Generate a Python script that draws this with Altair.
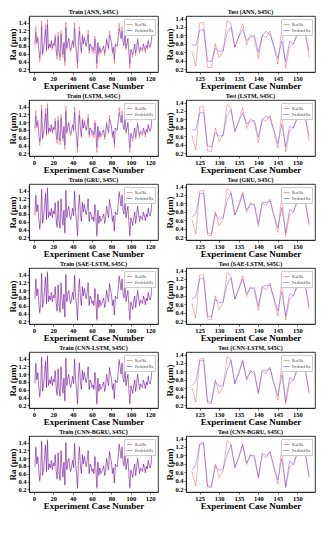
import altair as alt
import pandas as pd

FONT = "Liberation Serif"

models = ["ANN", "LSTM", "GRU", "SAE-LSTM", "CNN-LSTM", "CNN-BGRU"]

train_cases = list(range(1, 123))
test_cases = list(range(123, 154))

train_real = [
    0.75, 1.30, 0.85, 1.05, 0.70, 0.40, 0.62, 1.45, 0.55, 0.72,
    1.00, 1.35, 0.65, 1.48, 0.70, 0.85, 0.75, 0.95, 0.70, 0.88,
    0.80, 1.10, 0.65, 0.45, 1.15, 0.60, 0.42, 1.20, 0.75, 0.50,
    0.90, 0.30, 1.42, 0.70, 0.90, 1.00, 0.75, 0.65, 0.80, 0.95,
    0.75, 1.40, 0.85, 0.60, 0.22, 0.95, 1.30, 0.80, 0.60, 1.10,
    0.85, 1.05, 0.90, 0.78, 0.95, 1.20, 0.60, 0.85, 0.80, 0.65,
    0.72, 0.60, 1.05, 0.70, 0.22, 0.90, 0.55, 0.75, 0.60, 0.65,
    0.72, 0.80, 0.55, 0.70, 1.00, 0.85, 0.70, 1.18, 1.00, 0.90,
    0.60, 0.75, 0.35, 0.85, 0.80, 0.78, 1.05, 1.38, 1.20, 1.00,
    1.30, 0.90, 0.80, 1.15, 0.70, 0.85, 1.00, 0.60, 0.22, 0.70,
    0.60, 0.50, 0.70, 0.85, 0.55, 0.75, 1.00, 0.80, 0.60, 0.75,
    0.70, 0.65, 0.85, 0.75, 0.62, 0.80, 0.72, 0.95, 0.80, 0.75,
    0.88, 1.22,
]

# smoother predictions (ANN, LSTM)
train_pred_smooth = [
    0.85, 1.15, 0.90, 1.00, 0.75, 0.50, 0.65, 1.30, 0.60, 0.75,
    0.95, 1.22, 0.70, 1.35, 0.75, 0.85, 0.78, 0.92, 0.75, 0.85,
    0.82, 1.02, 0.70, 0.55, 1.05, 0.65, 0.52, 1.10, 0.78, 0.58,
    0.88, 0.40, 1.28, 0.75, 0.88, 0.98, 0.78, 0.70, 0.82, 0.92,
    0.80, 1.25, 0.85, 0.65, 0.35, 0.92, 1.18, 0.82, 0.65, 1.05,
    0.85, 1.00, 0.90, 0.80, 0.92, 1.10, 0.68, 0.85, 0.82, 0.72,
    0.78, 0.68, 0.98, 0.75, 0.35, 0.88, 0.62, 0.78, 0.65, 0.70,
    0.75, 0.80, 0.62, 0.72, 0.95, 0.85, 0.75, 1.08, 0.98, 0.90,
    0.66, 0.78, 0.45, 0.85, 0.82, 0.80, 1.00, 1.25, 1.12, 0.98,
    1.18, 0.90, 0.82, 1.08, 0.75, 0.85, 0.98, 0.65, 0.35, 0.72,
    0.65, 0.58, 0.72, 0.85, 0.62, 0.78, 0.95, 0.82, 0.66, 0.78,
    0.74, 0.70, 0.85, 0.78, 0.68, 0.82, 0.76, 0.92, 0.82, 0.78,
    0.88, 1.12,
]

# close-fitting predictions (GRU, SAE-LSTM, CNN-LSTM, CNN-BGRU)
train_pred_close = [
    0.78, 1.27, 0.86, 1.03, 0.71, 0.43, 0.63, 1.42, 0.57, 0.73,
    0.99, 1.32, 0.66, 1.45, 0.71, 0.85, 0.76, 0.94, 0.71, 0.87,
    0.80, 1.08, 0.66, 0.47, 1.13, 0.61, 0.44, 1.18, 0.75, 0.52,
    0.89, 0.32, 1.39, 0.71, 0.89, 0.99, 0.76, 0.66, 0.80, 0.94,
    0.76, 1.37, 0.85, 0.61, 0.25, 0.94, 1.28, 0.80, 0.61, 1.09,
    0.85, 1.04, 0.90, 0.78, 0.94, 1.18, 0.61, 0.85, 0.80, 0.66,
    0.73, 0.61, 1.04, 0.71, 0.25, 0.89, 0.56, 0.75, 0.61, 0.66,
    0.72, 0.80, 0.56, 0.70, 0.99, 0.85, 0.71, 1.16, 1.00, 0.90,
    0.61, 0.75, 0.37, 0.85, 0.80, 0.78, 1.04, 1.35, 1.19, 1.00,
    1.28, 0.90, 0.80, 1.14, 0.71, 0.85, 0.99, 0.61, 0.25, 0.70,
    0.61, 0.51, 0.70, 0.85, 0.56, 0.75, 0.99, 0.80, 0.61, 0.75,
    0.70, 0.66, 0.85, 0.75, 0.63, 0.80, 0.72, 0.94, 0.80, 0.75,
    0.88, 1.20,
]

test_real = [
    0.62, 0.27, 1.29, 1.31, 0.25, 0.23, 0.80, 0.47, 0.63, 1.35,
    1.28, 0.72, 0.97, 1.28, 0.78, 1.02, 0.93, 0.45, 1.00, 0.95,
    1.10, 0.70, 0.31, 1.18, 0.22, 0.73, 0.80, 1.09, 1.15, 1.05,
    0.48,
]

test_pred_ann = [
    0.78, 0.76, 1.12, 1.14, 0.40, 0.37, 0.70, 0.62, 0.63, 1.05,
    1.20, 0.72, 0.97, 1.14, 0.88, 0.95, 1.00, 0.60, 0.98, 1.10,
    1.02, 0.75, 0.45, 0.87, 0.37, 0.86, 0.80, 1.02, 1.01, 1.05,
    0.62,
]
test_pred_lstm = [
    0.75, 0.75, 1.15, 1.17, 0.37, 0.35, 0.68, 0.60, 0.62, 1.10,
    1.23, 0.70, 0.95, 1.15, 0.90, 0.95, 0.98, 0.58, 1.00, 1.07,
    1.03, 0.73, 0.43, 0.88, 0.35, 0.83, 0.80, 1.03, 1.04, 1.05,
    0.60,
]
test_pred_gru = [
    0.68, 0.75, 1.22, 1.25, 0.30, 0.28, 0.75, 0.62, 0.66, 1.05,
    1.25, 0.72, 0.95, 1.22, 0.84, 0.98, 0.98, 0.52, 1.02, 1.02,
    1.06, 0.72, 0.42, 0.90, 0.30, 0.85, 0.80, 1.05, 1.10, 1.05,
    0.52,
]
test_pred_sae = [
    0.72, 0.78, 1.20, 1.22, 0.32, 0.30, 0.72, 0.63, 0.65, 1.08,
    1.22, 0.72, 0.96, 1.20, 0.85, 0.98, 0.99, 0.55, 1.02, 1.04,
    1.05, 0.73, 0.44, 0.90, 0.32, 0.85, 0.80, 1.04, 1.08, 1.05,
    0.55,
]
test_pred_cnnlstm = [
    0.66, 0.76, 1.24, 1.27, 0.28, 0.27, 0.76, 0.64, 0.67, 1.02,
    1.26, 0.70, 0.95, 1.24, 0.83, 0.99, 0.99, 0.50, 1.04, 1.01,
    1.07, 0.72, 0.42, 0.92, 0.28, 0.86, 0.79, 1.05, 1.11, 1.05,
    0.50,
]
test_pred_cnnbgru = [
    0.65, 0.78, 1.25, 1.28, 0.27, 0.27, 0.75, 0.65, 0.68, 1.00,
    1.25, 0.70, 0.95, 1.25, 0.82, 1.00, 1.00, 0.50, 1.05, 1.00,
    1.08, 0.72, 0.42, 0.92, 0.27, 0.87, 0.78, 1.05, 1.12, 1.05,
    0.50,
]

train_preds = [train_pred_smooth, train_pred_smooth, train_pred_close,
               train_pred_close, train_pred_close, train_pred_close]
test_preds = [test_pred_ann, test_pred_lstm, test_pred_gru,
              test_pred_sae, test_pred_cnnlstm, test_pred_cnnbgru]

y_ticks = [0.2, 0.4, 0.6, 0.8, 1.0, 1.2, 1.4]
train_xticks = [0, 20, 40, 60, 80, 100, 120]
test_xticks = [125, 130, 135, 140, 145, 150]

W, H = 129, 56


def panel(title, cases, real, pred, xdom, xticks, ydom):
    n = len(cases)
    df = pd.DataFrame({
        "case": cases + cases,
        "Ra": real + pred,
        "series": ["Real Ra"] * n + ["Predicted Ra"] * n,
    })
    return alt.Chart(
        df,
        title=alt.Title(title, fontSize=6, font=FONT, fontWeight="bold",
                        offset=1, color="black"),
    ).mark_line(strokeWidth=0.8, opacity=0.4).encode(
        x=alt.X("case:Q",
                scale=alt.Scale(domain=xdom, nice=False, zero=False),
                axis=alt.Axis(values=xticks, format="d",
                              title="Experiment Case Number")),
        y=alt.Y("Ra:Q",
                scale=alt.Scale(domain=ydom, nice=False, zero=False),
                axis=alt.Axis(values=y_ticks, format=".1f", title="Ra (μm)")),
        color=alt.Color(
            "series:N",
            scale=alt.Scale(domain=["Real Ra", "Predicted Ra"],
                            range=["#ff0000", "#0000ff"]),
            legend=alt.Legend(
                title=None, orient="top-right", offset=3,
                labelFont=FONT, labelFontSize=3.5, labelColor="#333333",
                symbolType="stroke", symbolSize=36, symbolStrokeWidth=1,
                symbolOpacity=0.4, strokeColor="#cccccc", fillColor="white",
                padding=2, rowPadding=0, labelOffset=2, labelLimit=60,
            ),
        ),
    ).properties(width=W, height=H)


rows = []
for i, m in enumerate(models):
    left = panel(f"Train ({m}, S45C)", train_cases, train_real, train_preds[i],
                 [-5.05, 128.05], train_xticks, [0.13, 1.57])
    right = panel(f"Test ({m}, S45C)", test_cases, test_real, test_preds[i],
                  [121.5, 154.5], test_xticks, [0.13, 1.46])
    row = alt.hconcat(left, right, spacing=6).resolve_scale(
        x="independent", y="independent", color="independent"
    ).resolve_legend(color="independent")
    rows.append(row)

chart = alt.vconcat(*rows, spacing=1).resolve_scale(
    x="independent", y="independent", color="independent"
).resolve_legend(color="independent").properties(
    padding=0
).configure_axis(
    labelFont=FONT, labelFontWeight="bold", labelFontSize=6.5,
    labelColor="black", labelPadding=1,
    titleFont=FONT, titleFontWeight="bold", titleFontSize=9,
    titleColor="black", titlePadding=0,
    grid=False, tickSize=2, tickColor="black", domainColor="black",
    tickWidth=0.6, domainWidth=0.6,
).configure_view(
    stroke="black", strokeWidth=0.8
).configure_title(anchor="middle")

chart.save("out.html", embed_options={"renderer": "svg", "actions": False})
